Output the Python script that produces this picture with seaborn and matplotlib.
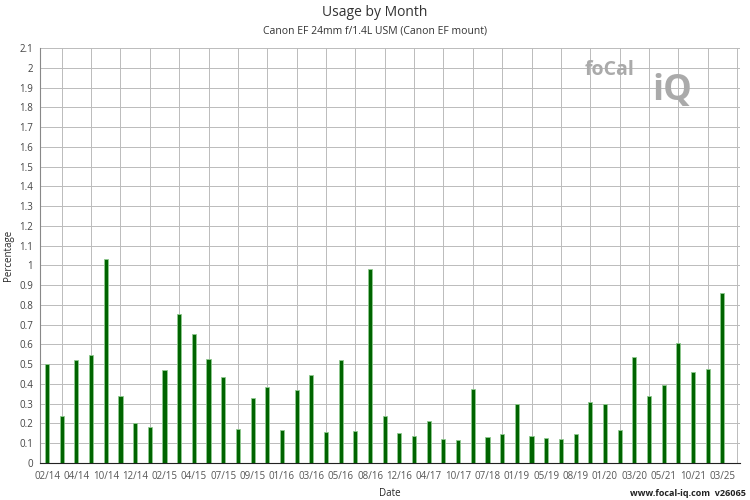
import matplotlib
matplotlib.use("Agg")
import matplotlib.pyplot as plt
import seaborn as sns
import numpy as np
import pandas as pd

values = [0.50,0.24,0.52,0.545,1.03,0.34,0.20,0.18,0.47,0.755,0.655,0.525,0.435,0.17,
          0.33,0.385,0.165,0.37,0.445,0.155,0.52,0.16,0.98,0.24,0.15,0.135,0.215,0.12,
          0.115,0.375,0.13,0.145,0.30,0.135,0.125,0.12,0.145,0.31,0.30,0.165,0.535,0.34,
          0.395,0.605,0.46,0.475,0.86]
tick_labels = ["02/14","04/14","10/14","12/14","02/15","04/15","07/15","09/15","01/16","03/16",
               "05/16","08/16","12/16","04/17","10/17","07/18","01/19","05/19","08/19","01/20",
               "03/20","05/21","10/21","03/25"]

sns.set_style("white")
plt.rcParams['font.family'] = ['Open Sans', 'DejaVu Sans']
df = pd.DataFrame({"idx": np.arange(len(values)), "val": values})

fig = plt.figure(figsize=(7.5, 5), dpi=100)
ax = fig.add_axes([40/750, 37/500, 700/750, 415/500])
sns.barplot(data=df, x="idx", y="val", color="#006400", width=0.28, ax=ax,
            edgecolor="#8fc98f", linewidth=0.6, saturation=1, native_scale=True)
n = len(values)
ax.set_xlim(-0.48, n + 0.2)
ax.set_ylim(0, 2.1)
ax.set_yticks(np.arange(0, 2.11, 0.1))
ax.set_yticklabels([f"{v:g}" for v in np.round(np.arange(0, 2.11, 0.1), 1)], fontsize=7, color="#444")
ax.set_xticks(np.arange(0, n, 2))
ax.set_xticklabels(tick_labels, fontsize=7, color="#555")
ax.set_xticks(np.arange(0, n + 1, 1), minor=True)
ax.grid(True, which="minor", axis="x", color="#bbbbbb", linewidth=0.7)
ax.grid(True, which="major", axis="y", color="#bbbbbb", linewidth=0.7)
ax.set_axisbelow(True)
ax.tick_params(axis="x", which="major", length=4, color="#333", pad=2)
ax.tick_params(axis="x", which="minor", length=0)
ax.tick_params(axis="y", length=3, pad=2)
for s in ["top", "right"]:
    ax.spines[s].set_visible(False)
ax.spines["bottom"].set_color("#222")
ax.spines["left"].set_color("#888")
ax.set_xlabel("Date", fontsize=7, labelpad=4)
ax.set_ylabel("Percentage", fontsize=7, labelpad=4)
fig.text(0.5, 0.968, "Usage by Month", ha="center", fontsize=10, color="#333")
fig.text(0.5, 0.933, "Canon EF 24mm f/1.4L USM (Canon EF mount)", ha="center", fontsize=7.5, color="#333")
fig.text(0.78, 0.85, "foCal", fontsize=14, color="#aaaaaa", fontweight="bold")
fig.text(0.87, 0.80, "iQ", fontsize=26, color="#aaaaaa", fontweight="bold")
fig.text(0.995, 0.008, "www.focal-iq.com  v26065", ha="right", fontsize=6.5, color="#222", fontweight="bold")
fig.savefig("out.png", dpi=100)
